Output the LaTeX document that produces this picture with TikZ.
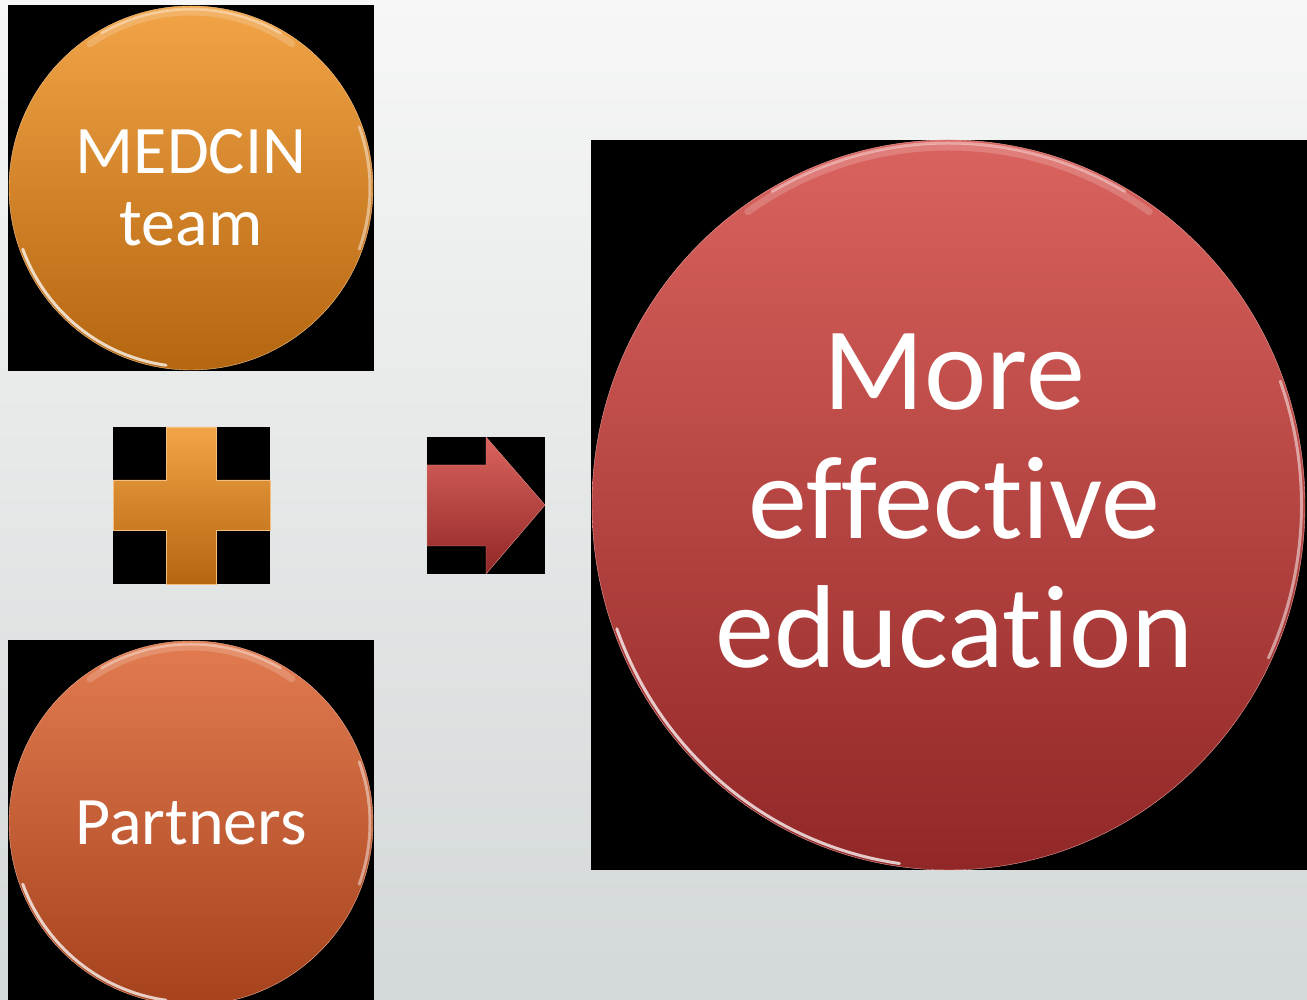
\documentclass[tikz,border=0pt]{standalone}
\usepackage{fontspec}
\newfontfamily\calib[Ligatures=NoCommon]{Carlito}
\usetikzlibrary{shapes.geometric}

\definecolor{bgtop}{HTML}{F6F7F6}
\definecolor{bgbot}{HTML}{D3D8D8}
\definecolor{orTop}{HTML}{F2A447}
\definecolor{orBot}{HTML}{B4650F}
\definecolor{rdTop}{HTML}{E27B50}
\definecolor{rdBot}{HTML}{A5421D}
\definecolor{crTop}{HTML}{DA635E}
\definecolor{crBot}{HTML}{912727}

\begin{document}
\begin{tikzpicture}[x=1pt, y=1pt,
		bubble/.style={circle, minimum size=364pt, inner sep=0pt, outer sep=0pt, text=white, align=center, font=\calib\fontsize{68}{72}\selectfont},
		gloss/.style={line width=3pt, white, opacity=.75, line cap=round},
		sheen/.style={line width=7pt, white, opacity=.18, line cap=round},
		backing/.style={fill=black}]
	\useasboundingbox (0,0) rectangle (1307,1000);
	\clip (0,0) rectangle (1307,1000);
	\fill[top color=bgtop, bottom color=bgbot] (0,0) rectangle (1307,1000);

	% black backings
	\fill[backing] (8,629) rectangle (374,995);
	\fill[backing] (8,0) rectangle (374,360);
	\fill[backing] (113,416) rectangle (270,573);
	\fill[backing] (427,426) rectangle (545,563);
	\fill[backing] (591,130) rectangle (1307,860);

	\node[bubble, top color=orTop, bottom color=orBot, draw=orTop!60!white, thin] at (191, 812) (medcin) {MEDCIN\\team};
	\node[bubble, top color=rdTop, bottom color=rdBot, draw=rdTop!60!white, thin] at (191, 177) (partners) {Partners};
	\node[ellipse, minimum width=713pt, minimum height=730pt, inner sep=0pt, outer sep=0pt,
		top color=crTop, bottom color=crBot, draw=crTop!60!white, thin,
		label={[name=resulttext, xshift=6pt, yshift=4pt, text=white, align=center,
			font=\calib\fontsize{118}{129}\selectfont]center:More\\effective\\education}] at (948.5, 495) (result) {};

	% plus
	\path[top color=orTop, bottom color=orBot, draw=orTop!70!white, thin]
		(166,416) -- (216,416) -- (216,470) -- (270,470) -- (270,520) -- (216,520)
		-- (216,573) -- (166,573) -- (166,520) -- (113,520) -- (113,470) -- (166,470) -- cycle;

	% arrow
	\path[top color=crTop, bottom color=crBot, draw=crTop!70!white, thin]
		(427,454) -- (486,454) -- (486,426) -- (545,495) -- (486,563) -- (486,535) -- (427,535) -- cycle;

	% highlights
	\foreach \c in {medcin, partners} {
		\draw[sheen] ([shift={(55:176pt)}]\c.center) arc[start angle=55, end angle=125, radius=176pt];
		\draw[gloss, opacity=.35] ([shift={(60:179pt)}]\c.center) arc[start angle=60, end angle=120, radius=179pt];
		\draw[gloss] ([shift={(200:179pt)}]\c.center) arc[start angle=200, end angle=262, radius=179pt];
		\draw[gloss, opacity=.45] ([shift={(-20:179pt)}]\c.center) arc[start angle=-20, end angle=20, radius=179pt];
	}
	\draw[sheen] ([shift={(55:{350pt and 358pt})}]result.center) arc[start angle=55, end angle=125, x radius=350pt, y radius=358pt];
	\draw[gloss, opacity=.4] ([shift={(60:{353pt and 362pt})}]result.center) arc[start angle=60, end angle=120, x radius=353pt, y radius=362pt];
	\draw[gloss] ([shift={(200:{353pt and 362pt})}]result.center) arc[start angle=200, end angle=262, x radius=353pt, y radius=362pt];
	\draw[gloss, opacity=.5] ([shift={(-25:{353pt and 362pt})}]result.center) arc[start angle=-25, end angle=20, x radius=353pt, y radius=362pt];
\end{tikzpicture}
\end{document}
